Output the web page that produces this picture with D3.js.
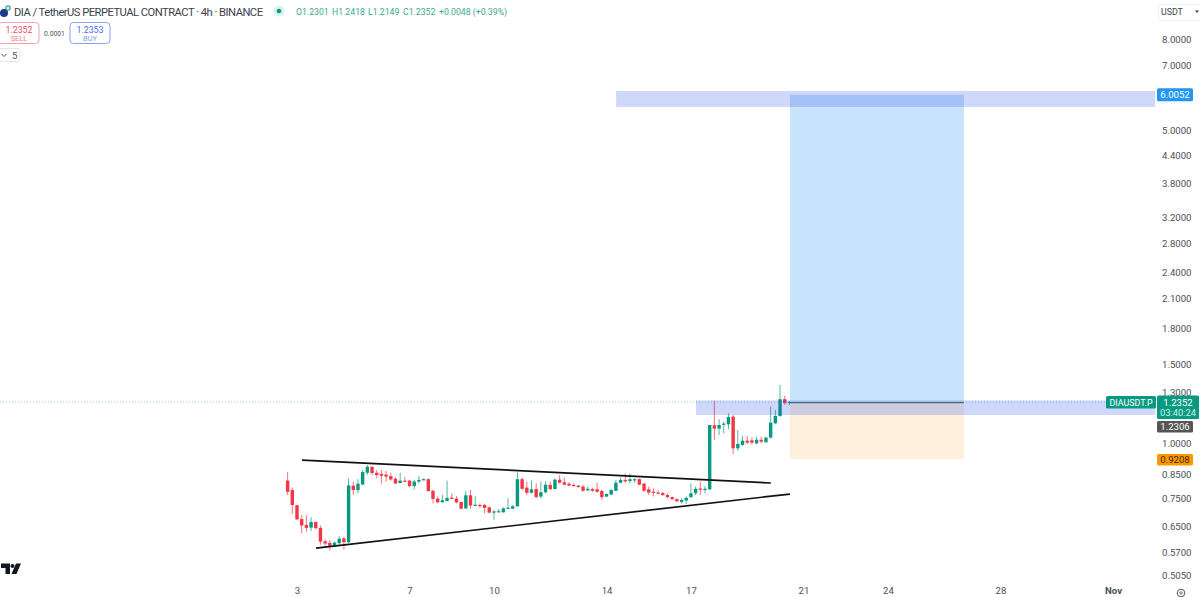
<!DOCTYPE html>
<html><head><meta charset="utf-8">
<script src="https://cdn.jsdelivr.net/npm/d3@7"></script>
<style>
html,body{margin:0;padding:0;background:#fff;overflow:hidden}
svg{display:block}
text{font-family:Roboto,"Open Sans",sans-serif}
</style></head><body><svg id="c" width="1200" height="597"></svg>
<script>
const opens=[.824,.785,.726,.676,.656,.647,.666,.646,.603,.598,
.590,.597,.612,.600,.803,.785,.808,.858,.884,.858,
.853,.850,.843,.832,.814,.824,.824,.801,.820,.828,
.830,.782,.751,.737,.742,.755,.751,.738,.714,.764,
.725,.727,.727,.718,.701,.702,.700,.714,.713,.722,
.830,.795,.774,.789,.759,.776,.806,.789,.828,.817,
.811,.806,.803,.799,.784,.789,.788,.781,.759,.767,
.782,.815,.827,.822,.827,.830,.811,.788,.778,.775,
.773,.765,.757,.749,.738,.744,.757,.772,.791,.789,
.788,1.096,1.077,1.101,1.101,1.145,.973,.990,1.012,1.014,
.998,1.017,1.004,1.028,1.107,1.149,1.253,1.2301];
const closes=[.778,.727,.675,.654,.646,.666,.645,.602,.596,.589,
.599,.611,.600,.804,.785,.811,.861,.885,.857,.848,
.845,.841,.829,.812,.824,.821,.801,.820,.827,.830,
.781,.750,.737,.745,.754,.750,.737,.713,.764,.725,
.728,.723,.716,.699,.703,.704,.714,.717,.722,.830,
.790,.774,.788,.757,.776,.807,.789,.828,.815,.807,
.803,.801,.797,.782,.790,.782,.778,.757,.769,.785,
.815,.827,.821,.830,.830,.807,.782,.775,.774,.773,
.765,.757,.749,.741,.746,.754,.772,.790,.788,.790,
1.097,1.077,1.097,1.105,1.143,.973,.995,1.012,1.002,1.002,
1.017,1.007,1.028,1.111,1.149,1.253,1.227,1.2352];
const highs=[.860,.795,.727,.690,.690,.682,.667,.654,.609,.607,
.602,.619,.617,.834,.820,.830,.870,.893,.888,.870,
.870,.867,.858,.838,.858,.838,.827,.827,.844,.834,
.834,.785,.759,.765,.824,.772,.761,.739,.781,.785,
.761,.733,.731,.721,.708,.712,.718,.752,.727,.860,
.838,.820,.824,.812,.820,.820,.820,.834,.848,.838,
.817,.812,.805,.805,.799,.795,.815,.785,.772,.788,
.827,.838,.855,.855,.834,.834,.815,.799,.792,.785,
.778,.772,.759,.752,.752,.759,.812,.799,.820,.801,
1.097,1.244,1.130,1.116,1.165,1.155,1.069,1.038,1.036,1.029,
1.033,1.033,1.033,1.206,1.185,1.348,1.274,1.2418];
const lows=[.765,.694,.673,.628,.633,.636,.641,.592,.587,.575,
.585,.592,.578,.597,.765,.772,.805,.848,.848,.834,
.812,.820,.824,.810,.812,.818,.796,.788,.812,.827,
.778,.733,.733,.736,.740,.749,.733,.712,.713,.714,
.724,.717,.696,.696,.673,.700,.699,.713,.712,.721,
.785,.765,.772,.752,.752,.772,.785,.788,.812,.803,
.801,.799,.795,.778,.781,.778,.775,.746,.757,.765,
.781,.812,.815,.812,.815,.805,.778,.765,.759,.768,
.761,.752,.746,.737,.733,.731,.752,.765,.765,.772,
.785,1.016,1.042,1.051,1.073,.945,.961,.985,.993,.993,
.993,.998,1.002,1.024,1.101,1.145,1.217,1.2149];

const firstCandleHour=-8;              // first bar opens 8h before 3 Oct
const priceTicks=[8,7,5,4.4,3.8,3.2,2.8,2.4,2.1,1.8,1.5,1.3,1,0.85,0.75,0.65,0.57,0.505];
const dateTicks=["3","7","10","14","17","21","24","28","Nov"];
const dateTickDays=[3,7,10,14,17,21,24,28,32];
const currentPrice=1.2352, entryPrice=1.2306, targetPrice=6.0052, stopPrice=0.9208;
// drawings: [day,price] pairs, day counted in October
const upperTrend=[[3.18,.916],[19.84,.814]];
const lowerTrend=[[3.675,.582],[20.52,.769]];
const upperBand=[14.34,33.5,6.12,5.64];
const lowerBand=[17.18,33.5,1.2450,1.155];
const positionDays=[20.52,26.70];

const y=d3.scaleLog().domain([1,8]).range([443,39]);
const x=d3.scaleLinear().domain([3,32]).range([297,1113]);
const svg=d3.select("#c");
const barDay=i=>3+(firstCandleHour+4*i)/24;
const green="#089981", red="#f23645";
const candles=d3.range(opens.length).map(i=>({i,o:opens[i],c:closes[i],h:highs[i],l:lows[i]}));
const axisFont=9.6;

// current-price dotted line
svg.append("line").attr("x1",0).attr("x2",1107).attr("y1",y(currentPrice)).attr("y2",y(currentPrice))
 .attr("stroke",green).attr("stroke-opacity",.4).attr("stroke-width",1).attr("stroke-dasharray","1 2");

// candles
const g=svg.append("g");
g.selectAll("line").data(candles).join("line")
 .attr("x1",d=>x(barDay(d.i))).attr("x2",d=>x(barDay(d.i)))
 .attr("y1",d=>y(d.h)).attr("y2",d=>y(d.l))
 .attr("stroke",d=>d.c>=d.o?green:red).attr("stroke-opacity",.7).attr("stroke-width",1);
g.selectAll("rect").data(candles).join("rect")
 .attr("x",d=>x(barDay(d.i))-1.7).attr("width",3.4)
 .attr("y",d=>y(Math.max(d.o,d.c)))
 .attr("height",d=>Math.max(1.2,y(Math.min(d.o,d.c))-y(Math.max(d.o,d.c))))
 .attr("fill",d=>d.c>=d.o?green:red);

// position boxes
svg.append("rect").attr("x",x(positionDays[0])).attr("width",x(positionDays[1])-x(positionDays[0]))
 .attr("y",y(targetPrice)).attr("height",y(entryPrice)-y(targetPrice)).attr("fill","#8fcaf9").attr("fill-opacity",.5);
svg.append("rect").attr("x",x(positionDays[0])).attr("width",x(positionDays[1])-x(positionDays[0]))
 .attr("y",y(entryPrice)).attr("height",y(stopPrice)-y(entryPrice)).attr("fill","#ffdcb0").attr("fill-opacity",.42);
// zones
for(const b of [upperBand,lowerBand]){
 svg.append("rect").attr("x",x(b[0])).attr("width",x(b[1])-x(b[0]))
  .attr("y",y(b[2])).attr("height",y(b[3])-y(b[2])).attr("fill","#2e52ea").attr("fill-opacity",.23);
}
svg.append("line").attr("x1",x(positionDays[0])).attr("x2",x(positionDays[1]))
 .attr("y1",y(entryPrice)).attr("y2",y(entryPrice)).attr("stroke","#4a6a70").attr("stroke-width",1.2);

// trend lines
const tl=d3.line().x(d=>x(d[0])).y(d=>y(d[1]));
for(const t of [upperTrend,lowerTrend]){
 svg.append("path").attr("d",tl(t)).attr("fill","none").attr("stroke","#111").attr("stroke-width",1.7);
}

// price axis
const ay=svg.append("g").attr("transform","translate(1158,0)")
 .call(d3.axisRight(y).tickValues(priceTicks).tickSize(0).tickPadding(4).tickFormat(d3.format(".4f")));
ay.select(".domain").remove();
ay.selectAll("text").attr("fill","#4a4f5c").attr("font-size",axisFont);
// date axis
const ax=svg.append("g").attr("transform","translate(0,585.5)")
 .call(d3.axisBottom(x).tickValues(dateTickDays).tickSize(0).tickPadding(2).tickFormat((d,i)=>dateTicks[i]));
ax.select(".domain").remove();
ax.selectAll("text").attr("fill","#4a4f5c").attr("font-size",axisFont);
ax.selectAll("text").filter((d,i)=>dateTicks[i]==="Nov").attr("font-weight",700);

function tag(x0,y0,w,h,fill,txt,tc,size){
 svg.append("rect").attr("x",x0).attr("y",y0).attr("width",w).attr("height",h).attr("rx",1.5).attr("fill",fill);
 if(txt) svg.append("text").attr("x",x0+w/2).attr("y",y0+h/2+3.4).attr("text-anchor","middle").attr("font-size",size||axisFont).attr("fill",tc).text(txt);
}
tag(1157,y(targetPrice)-6.5,36,13,"#2196f3",d3.format(".4f")(targetPrice),"#fff");
tag(1106,396,50,12.5,green,"DIAUSDT.P","#fff",8.9);
tag(1157,395.5,42,23.5,green);
svg.append("text").attr("x",1178).attr("y",406).attr("text-anchor","middle").attr("font-size",axisFont).attr("fill","#fff").text(d3.format(".4f")(currentPrice));
svg.append("text").attr("x",1178).attr("y",416).attr("text-anchor","middle").attr("font-size",9.4).attr("fill","#cdeee6").text("03:40:24");
tag(1157,421,36,11.5,"#555",d3.format(".4f")(entryPrice),"#fff");
tag(1157,454,36,11.5,"#ff9800",d3.format(".4f")(stopPrice),"#3a2a00");

// header
svg.append("circle").attr("cx",4).attr("cy",13).attr("r",4).attr("fill","#1c3a8a");
svg.append("circle").attr("cx",8).attr("cy",8).attr("r",2.2).attr("fill","none").attr("stroke","#2a9d9a").attr("stroke-width",1.2);
svg.append("text").attr("x",14).attr("y",15.5).attr("font-size",11.2).attr("fill","#3b3f4a")
 .attr("textLength",249).text("DIA / TetherUS PERPETUAL CONTRACT · 4h · BINANCE");
svg.append("circle").attr("cx",279).attr("cy",11).attr("r",5.5).attr("fill",green).attr("fill-opacity",.15);
svg.append("circle").attr("cx",279).attr("cy",11).attr("r",2.3).attr("fill",green);
const hdr=svg.append("text").attr("y",15).attr("font-size",8.7).attr("fill","#3aa992");
hdr.append("tspan").attr("x",296).text("O1.2301");
hdr.append("tspan").attr("x",332).text("H1.2418");
hdr.append("tspan").attr("x",368).text("L1.2149");
hdr.append("tspan").attr("x",403).text("C1.2352");
hdr.append("tspan").attr("x",439).text("+0.0048 (+0.39%)");

// buy / sell
svg.append("rect").attr("x",-2).attr("y",22.5).attr("width",41).attr("height",21).attr("rx",3.5).attr("fill","#fff").attr("stroke","#f4a3aa");
svg.append("text").attr("x",19).attr("y",32.5).attr("text-anchor","middle").attr("font-size",8.8).attr("fill","#ef4d5b").text("1.2352");
svg.append("text").attr("x",19).attr("y",41).attr("text-anchor","middle").attr("font-size",7.4).attr("fill","#ef7f88").text("SELL");
svg.append("text").attr("x",54.5).attr("y",36).attr("text-anchor","middle").attr("font-size",6.8).attr("fill","#555").text("0.0001");
svg.append("rect").attr("x",70).attr("y",22.5).attr("width",40).attr("height",21).attr("rx",3.5).attr("fill","#fff").attr("stroke","#8aa4ef");
svg.append("text").attr("x",90).attr("y",32.5).attr("text-anchor","middle").attr("font-size",8.8).attr("fill","#4a6ee8").text("1.2353");
svg.append("text").attr("x",90).attr("y",41).attr("text-anchor","middle").attr("font-size",7.4).attr("fill","#7f9bf0").text("BUY");
svg.append("rect").attr("x",-2).attr("y",48.5).attr("width",22).attr("height",13).attr("rx",2).attr("fill","#fff").attr("stroke","#e6e6e6");
svg.append("path").attr("d","M1.5 54 L4 56.5 L6.5 54").attr("fill","none").attr("stroke","#555").attr("stroke-width",1);
svg.append("text").attr("x",12).attr("y",59).attr("font-size",9.6).attr("fill","#555").text("5");

// USDT selector
svg.append("rect").attr("x",1158.5).attr("y",4.5).attr("width",44).attr("height",16).attr("rx",2).attr("fill","#fff").attr("stroke","#efefef");
svg.append("text").attr("x",1161).attr("y",15).attr("font-size",8.8).attr("fill","#3b3f4a").text("USDT");
svg.append("path").attr("d","M1195 10.5 L1199 10.5 L1197 13 Z").attr("fill","#444");

// TradingView mark
svg.append("path").attr("d","M1 563.5 H10 V574 H5.5 V568 H1 Z M11.5 574 L16 563.5 H21 L16.5 574 Z").attr("fill","#131722");
svg.append("circle").attr("cx",12.5).attr("cy",566).attr("r",2).attr("fill","#131722");

// settings glyph
svg.append("circle").attr("cx",1181).attr("cy",593).attr("r",3.8).attr("fill","none").attr("stroke","#555").attr("stroke-width",1);
svg.append("circle").attr("cx",1181).attr("cy",593).attr("r",1.2).attr("fill","none").attr("stroke","#555").attr("stroke-width",.8);
</script></body></html>
